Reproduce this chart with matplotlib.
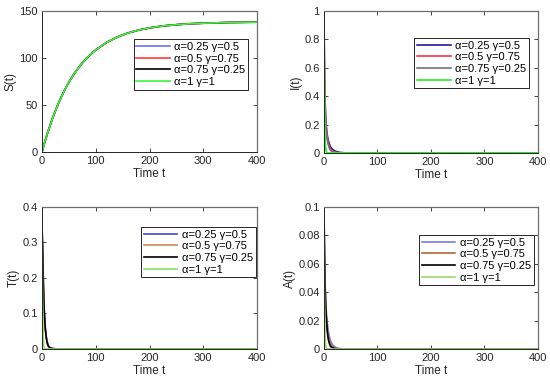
import matplotlib
matplotlib.use("Agg")
import matplotlib.pyplot as plt

plt.rcParams['font.family'] = ['Liberation Sans', 'DejaVu Sans']

labels = ["α=0.25 γ=0.5", "α=0.5 γ=0.75", "α=0.75 γ=0.25", "α=1 γ=1"]

# S(t) panel
t_s = [0, 5, 10, 20, 30, 40, 50, 60, 70, 80, 90, 100, 120, 140, 160, 180,
       200, 225, 250, 275, 300, 350, 400]
S_vals = [0, 10.3, 19.8, 36.7, 51.2, 63.7, 74.4, 83.5, 91.3, 98.1, 103.8, 108.7,
          116.6, 122.4, 126.7, 129.8, 132.1, 134.2, 135.5, 136.5, 137.1, 137.9, 138.2]
S_series = [S_vals, S_vals, S_vals, S_vals]

# I(t) panel
t_i = [0, 1, 2, 3, 4, 5, 6, 8, 10, 12, 15, 20, 25, 30, 40, 400]
I_a025 = [1, 0.45, 0.32, 0.25, 0.20, 0.16, 0.13, 0.09, 0.065, 0.045, 0.03, 0.015, 0.008, 0.004, 0.001, 0]
I_a05 = [1, 0.55, 0.38, 0.27, 0.20, 0.15, 0.11, 0.07, 0.045, 0.03, 0.015, 0.006, 0.002, 0.001, 0, 0]
I_a075 = [1, 0.60, 0.40, 0.28, 0.20, 0.14, 0.10, 0.06, 0.035, 0.02, 0.01, 0.004, 0.001, 0, 0, 0]
I_a1 = [1, 0.40, 0.12, 0.04, 0.015, 0.005, 0.002, 0, 0, 0, 0, 0, 0, 0, 0, 0]
I_series = [I_a025, I_a05, I_a075, I_a1]

# T(t) panel
t_t = [0, 1, 2, 3, 4, 6, 8, 10, 12, 15, 20, 30, 400]
T_a025 = [0.33, 0.27, 0.20, 0.15, 0.11, 0.06, 0.035, 0.018, 0.009, 0.004, 0.001, 0, 0]
T_a05 = [0.335, 0.28, 0.21, 0.155, 0.11, 0.055, 0.03, 0.015, 0.007, 0.003, 0.001, 0, 0]
T_a075 = [0.345, 0.30, 0.22, 0.16, 0.11, 0.06, 0.03, 0.015, 0.007, 0.003, 0.001, 0, 0]
T_a1 = [0.34, 0.15, 0.04, 0.01, 0.002, 0, 0, 0, 0, 0, 0, 0, 0]
T_series = [T_a025, T_a05, T_a075, T_a1]

# A(t) panel
t_a = [0, 1, 2, 3, 4, 6, 8, 10, 12, 15, 20, 25, 30, 40, 400]
A_a025 = [0.1, 0.06, 0.045, 0.035, 0.028, 0.019, 0.013, 0.009, 0.006, 0.0035, 0.0015, 0.0007, 0.0003, 0, 0]
A_a05 = [0.1, 0.065, 0.045, 0.033, 0.025, 0.015, 0.009, 0.006, 0.0035, 0.0018, 0.0006, 0.0002, 0, 0, 0]
A_a075 = [0.1, 0.07, 0.048, 0.034, 0.024, 0.013, 0.007, 0.004, 0.002, 0.001, 0.0003, 0, 0, 0, 0]
A_a1 = [0.1, 0.04, 0.012, 0.004, 0.001, 0, 0, 0, 0, 0, 0, 0, 0, 0, 0]
A_series = [A_a025, A_a05, A_a075, A_a1]

panels = [
    dict(t=t_s, ys=S_series, ylabel="S(t)", ylim=(0, 150), yticks=[0, 50, 100, 150],
         ytl=["0", "50", "100", "150"],
         colors=["#6e6eff", "#ff3a3a", "#000000", "#3cf53c"],
         rect=[0.0764, 0.602, 0.391, 0.369], anchor=(0.958, 0.80)),
    dict(t=t_i, ys=I_series, ylabel="I(t)", ylim=(0, 1), yticks=[0, 0.2, 0.4, 0.6, 0.8, 1],
         ytl=["0", "0.2", "0.4", "0.6", "0.8", "1"],
         colors=["#1c1ca0", "#ff2a45", "#737373", "#22f022"],
         rect=[0.589, 0.5995, 0.389, 0.372], anchor=(0.958, 0.81)),
    dict(t=t_t, ys=T_series, ylabel="T(t)", ylim=(0, 0.4), yticks=[0, 0.1, 0.2, 0.3, 0.4],
         ytl=["0", "0.1", "0.2", "0.3", "0.4"],
         colors=["#4646c8", "#d08a50", "#000000", "#84e060"],
         rect=[0.0764, 0.0864, 0.391, 0.372], anchor=(0.993, 0.859)),
    dict(t=t_a, ys=A_series, ylabel="A(t)", ylim=(0, 0.1), yticks=[0, 0.02, 0.04, 0.06, 0.08, 0.1],
         ytl=["0", "0.02", "0.04", "0.06", "0.08", "0.1"],
         colors=["#7a7ae0", "#b0683a", "#000000", "#98d870"],
         rect=[0.589, 0.0864, 0.389, 0.372], anchor=(0.981, 0.803)),
]

fig = plt.figure(figsize=(5.5, 3.82), dpi=100)
fig.patch.set_facecolor("white")

for p in panels:
    ax = fig.add_axes(p["rect"])
    for y, c, lab in zip(p["ys"], p["colors"], labels):
        ax.plot(p["t"], y, color=c, lw=1.2, label=lab)
    ax.set_xlim(0, 400)
    ax.set_ylim(*p["ylim"])
    ax.set_xticks([0, 100, 200, 300, 400])
    ax.set_xticklabels(["0", "100", "200", "300", "400"])
    ax.set_yticks(p["yticks"])
    ax.set_yticklabels(p["ytl"])
    ax.tick_params(direction="in", top=True, right=True, length=3, width=0.6,
                   labelsize=8, colors="#262626", pad=3)
    for side in ["left", "bottom"]:
        ax.spines[side].set_color("#262626")
        ax.spines[side].set_linewidth(0.7)
    for side in ["top", "right"]:
        ax.spines[side].set_color("#6e6e6e")
        ax.spines[side].set_linewidth(0.9)
    ax.set_xlabel("Time t", fontsize=8.5, labelpad=1.5, color="#262626")
    ax.set_ylabel(p["ylabel"], fontsize=8.5, labelpad=2, color="#262626")
    leg = ax.legend(loc="upper right", bbox_to_anchor=p["anchor"], fontsize=8,
                    handlelength=3.0, handletextpad=0.4, labelspacing=0.15,
                    borderpad=0.25, borderaxespad=0, fancybox=False, framealpha=1,
                    edgecolor="#262626")
    leg.get_frame().set_linewidth(0.7)

fig.savefig("out.png", dpi=100, facecolor="white")
